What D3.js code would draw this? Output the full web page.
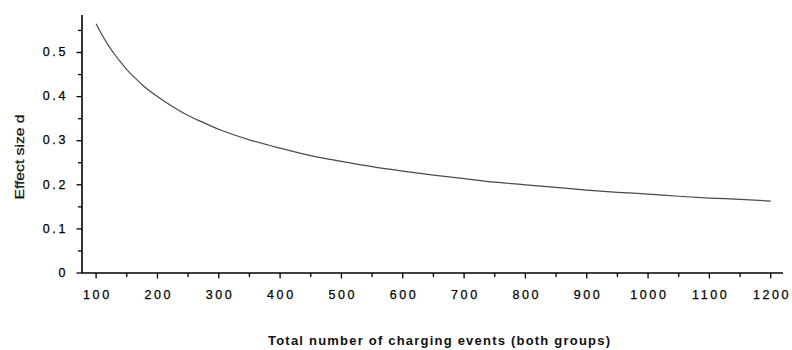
<!DOCTYPE html>
<html>
<head>
<meta charset="utf-8">
<script src="https://cdn.jsdelivr.net/npm/d3@7/dist/d3.min.js"></script>
<style>
  html, body { margin: 0; padding: 0; background: #fff; }
  svg { display: block; }
  .tick-label { font-family: "Liberation Sans", Arial, sans-serif; font-size: 12.5px; letter-spacing: 2.6px; fill: #000; stroke: #000; stroke-width: 0.25px; }
  .axis-title { font-family: "Liberation Sans", Arial, sans-serif; fill: #111; }
</style>
</head>
<body>
<svg id="chart" width="792" height="350"></svg>
<script>
// Total number of charging events (both groups) and the detectable effect size d
const events = [100, 110, 120, 130, 140, 150, 160, 175, 200, 225, 250, 275, 300, 350, 400, 450,
                500, 550, 600, 650, 700, 750, 800, 850, 900, 950, 1000, 1050, 1100, 1150, 1200];
const effectSize = [0.565, 0.539, 0.516, 0.496, 0.478, 0.461, 0.447, 0.427, 0.400, 0.377, 0.357,
                    0.341, 0.326, 0.302, 0.283, 0.266, 0.253, 0.241, 0.231, 0.222, 0.214, 0.206,
                    0.200, 0.194, 0.188, 0.183, 0.179, 0.174, 0.170, 0.167, 0.163];

const xTicks = [100, 200, 300, 400, 500, 600, 700, 800, 900, 1000, 1100, 1200];
const xMinorTicks = [150, 250, 350, 450, 550, 650, 750, 850, 950, 1050, 1150];
const yTicks = [0, 0.1, 0.2, 0.3, 0.4, 0.5];
const yMinorTicks = [0.05, 0.15, 0.25, 0.35, 0.45, 0.55];

const xTitle = "Total number of charging events (both groups)";
const yTitle = "Effect size d";

(function draw() {
  const svg = d3.select("#chart");
  const plotLeft = 82, plotRight = 783, plotTop = 15, plotBottom = 273;

  const x = d3.scaleLinear().domain([77, 1220]).range([plotLeft, plotRight]);
  const y = d3.scaleLinear().domain([0, 0.585]).range([plotBottom, plotTop]);

  // Curve
  const line = d3.line()
    .x((d, i) => x(events[i]))
    .y((d, i) => y(effectSize[i]))
    .curve(d3.curveMonotoneX);

  svg.append("path")
    .datum(effectSize)
    .attr("d", line)
    .attr("fill", "none")
    .attr("stroke", "#4a4a4a")
    .attr("stroke-width", 1.2);

  // Y axis
  const yAxis = svg.append("g");
  yAxis.append("line")
    .attr("x1", plotLeft).attr("x2", plotLeft)
    .attr("y1", plotTop).attr("y2", plotBottom)
    .attr("stroke", "#000").attr("stroke-width", 1.6);
  yAxis.selectAll(".ymaj").data(yTicks).join("line")
    .attr("x1", plotLeft - 5.5).attr("x2", plotLeft)
    .attr("y1", d => y(d)).attr("y2", d => y(d))
    .attr("stroke", "#000").attr("stroke-width", 1.3);
  yAxis.selectAll(".ymin").data(yMinorTicks).join("line")
    .attr("x1", plotLeft - 4).attr("x2", plotLeft)
    .attr("y1", d => y(d)).attr("y2", d => y(d))
    .attr("stroke", "#000").attr("stroke-width", 1.3);
  yAxis.selectAll(".ylab").data(yTicks).join("text")
    .attr("class", "tick-label")
    .attr("x", plotLeft - 14)
    .attr("y", d => y(d))
    .attr("dy", "0.3em")
    .attr("text-anchor", "end")
    .text(d => d === 0 ? "0" : d3.format(".1f")(d));

  // X axis
  const xAxis = svg.append("g");
  xAxis.append("line")
    .attr("x1", plotLeft).attr("x2", plotRight)
    .attr("y1", plotBottom).attr("y2", plotBottom)
    .attr("stroke", "#000").attr("stroke-width", 1.6);
  xAxis.selectAll(".xmaj").data(xTicks).join("line")
    .attr("x1", d => x(d)).attr("x2", d => x(d))
    .attr("y1", plotBottom).attr("y2", plotBottom + 5.5)
    .attr("stroke", "#000").attr("stroke-width", 1.3);
  xAxis.selectAll(".xmin").data(xMinorTicks).join("line")
    .attr("x1", d => x(d)).attr("x2", d => x(d))
    .attr("y1", plotBottom).attr("y2", plotBottom + 4)
    .attr("stroke", "#000").attr("stroke-width", 1.3);
  xAxis.selectAll(".xlab").data(xTicks).join("text")
    .attr("class", "tick-label")
    .attr("x", d => x(d) + 1.3)
    .attr("y", plotBottom + 26)
    .attr("text-anchor", "middle")
    .text(d => d);

  // Axis titles
  svg.append("text")
    .attr("class", "axis-title")
    .attr("x", 268)
    .attr("y", 345)
    .attr("font-size", 13)
    .attr("font-weight", "bold")
    .attr("textLength", 342)
    .attr("lengthAdjust", "spacing")
    .text(xTitle);

  svg.append("text")
    .attr("class", "axis-title")
    .attr("transform", "translate(24,157) rotate(-90)")
    .attr("text-anchor", "middle")
    .attr("font-size", 12.5)
    .attr("stroke", "#111")
    .attr("stroke-width", 0.25)
    .attr("textLength", 85)
    .attr("lengthAdjust", "spacingAndGlyphs")
    .text(yTitle);
})();
</script>
</body>
</html>
